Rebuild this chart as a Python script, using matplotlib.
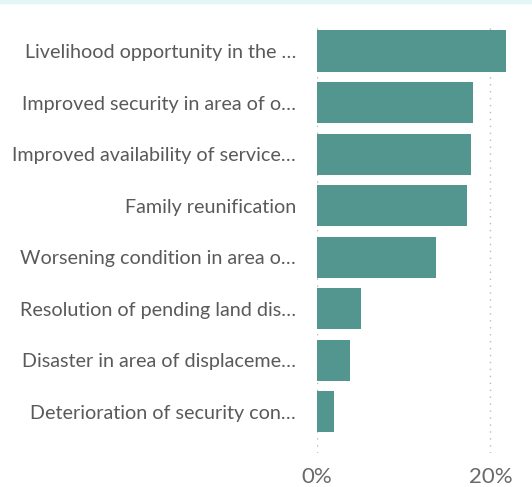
import matplotlib
matplotlib.use("Agg")
import matplotlib.pyplot as plt
from matplotlib.patches import Rectangle

categories = [
    "Livelihood opportunity in the \u2026",
    "Improved security in area of o\u2026",
    "Improved availability of service\u2026",
    "Family reunification",
    "Worsening condition in area o\u2026",
    "Resolution of pending land dis\u2026",
    "Disaster in area of displaceme\u2026",
    "Deterioration of security con\u2026",
]
values = [21.85, 18.0, 17.8, 17.35, 13.75, 5.1, 3.8, 2.0]
xticks = [0, 20]
xticklabels = ["0%", "20%"]

W, H = 532, 487
fig = plt.figure(figsize=(W / 100, H / 100), dpi=100)
fig.patches.append(Rectangle((0, 1 - 3 / H), 1, 3 / H, transform=fig.transFigure,
                             color="#e3f6f6", zorder=0))
ax = fig.add_axes([317 / W, 1 - 453 / H, (512 - 317) / W, (453 - 24) / H])

y = list(range(len(categories)))
ax.barh(y, values, height=0.8, color="#52968f", zorder=2)
ax.set_ylim(len(categories) - 1 + 0.8, -0.525)
ax.set_xlim(0, 22.5)

ax.set_yticks(y)
ax.set_yticklabels(categories, fontsize=14.2, color="#5a5a5a", family=["Lato", "DejaVu Sans"])
ax.set_xticks(xticks)
ax.set_xticklabels(xticklabels, fontsize=16, color="#6a6a6a", family=["Lato", "DejaVu Sans"])
ax.tick_params(axis="both", length=0)
ax.tick_params(axis="y", pad=15)
ax.tick_params(axis="x", pad=10)

ax.grid(axis="x", linestyle=(0, (1, 4)), color="#bbbbbb", linewidth=1, zorder=1)
ax.grid(axis="y", visible=False)
for s in ax.spines.values():
    s.set_visible(False)

fig.savefig("out.png", dpi=100)
